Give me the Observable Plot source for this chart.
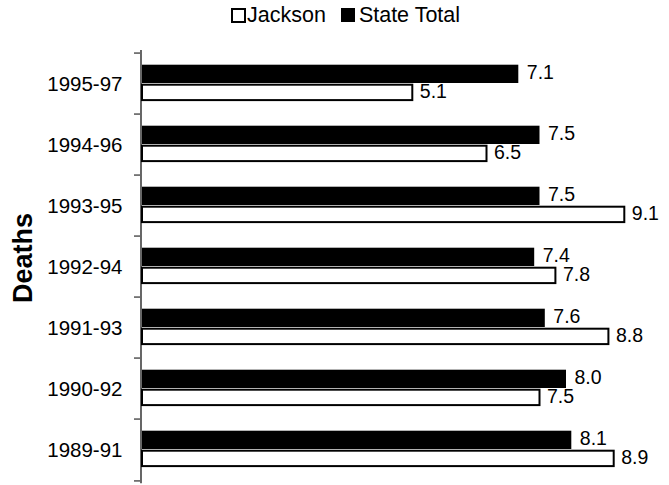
<!DOCTYPE html>
<html><head><meta charset="utf-8">
<script src="https://cdn.jsdelivr.net/npm/d3@7"></script>
<script src="https://cdn.jsdelivr.net/npm/@observablehq/plot@0.6"></script>
<style>
body{margin:0;background:#fff;font-family:"Liberation Sans",Arial,sans-serif;color:#000;}
#wrap{position:relative;width:669px;}
#legend{position:relative;height:30px;}
#legend .inner{position:absolute;left:231px;top:3px;display:flex;align-items:center;font-size:21.5px;line-height:24px;white-space:nowrap;}
.sw{display:inline-block;box-sizing:border-box;}
.sw.open{width:15px;height:15px;border:2px solid #000;background:#fff;margin-right:1px;}
.sw.fill{width:14px;height:14px;background:#000;margin-left:15px;margin-right:4px;}
#ylabel{position:absolute;left:23px;top:258px;transform:translate(-50%,-50%) rotate(-90deg);font-size:27px;font-weight:bold;white-space:nowrap;line-height:30px;}
</style></head><body>
<div id="wrap">
  <div id="legend"><div class="inner"><span class="sw open"></span><span>Jackson</span><span class="sw fill"></span><span>State Total</span></div></div>
  <div id="chart"></div>
  <div id="ylabel">Deaths</div>
</div>
<script>
const periods = ["1995-97","1994-96","1993-95","1992-94","1991-93","1990-92","1989-91"];
const jackson = [5.1, 6.5, 9.1, 7.8, 8.8, 7.5, 8.9];
const stateTotal = [7.1, 7.5, 7.5, 7.4, 7.6, 8.0, 8.1];
const seriesNames = ["Jackson", "State Total"];

const rows = periods.map((p, i) => ({period: p, jackson: jackson[i], state: stateTotal[i]}));
const half = (455 - 20 - 1.7) / periods.length / 2;

const chart = Plot.plot({
  width: 669,
  height: 455,
  marginTop: 20,
  marginBottom: 1.7,
  marginLeft: 142,
  marginRight: -3,
  style: {fontFamily: '"Liberation Sans", Arial, sans-serif', fontSize: "20px", color: "#000", background: "#fff", overflow: "visible"},
  x: {domain: [0, 10], axis: null},
  y: {type: "band", domain: periods, padding: 0, axis: null},
  marks: [
    Plot.barX(rows, {x: "state", y: "period", fill: "#000", insetTop: 11.7, insetBottom: 31}),
    Plot.barX(rows, {x: "jackson", y: "period", fill: "#fff", stroke: "#000", strokeWidth: 2, insetTop: 31.7, insetBottom: 13.9}),
    Plot.text(rows, {x: "state", y: "period", text: d => d.state.toFixed(1), textAnchor: "start", dx: 8, dy: -11, fontSize: 19.5}),
    Plot.text(rows, {x: "jackson", y: "period", text: d => d.jackson.toFixed(1), textAnchor: "start", dx: 7, dy: 7.5, fontSize: 19.5}),
    Plot.ruleX([0], {stroke: "#000", strokeWidth: 1.2, dx: -1.5}),
    Plot.axisY({tickSize: 0, tickPadding: 20, fontSize: 20.5, label: null}),
    Plot.axisY({tickSize: 6, text: null, dy: -half, dx: -2, label: null, stroke: "#000"}),
    Plot.axisY([periods[periods.length - 1]], {tickSize: 6, text: null, dy: half, dx: -2, label: null, stroke: "#000"})
  ]
});
document.getElementById("chart").appendChild(chart);
</script>
</body></html>
